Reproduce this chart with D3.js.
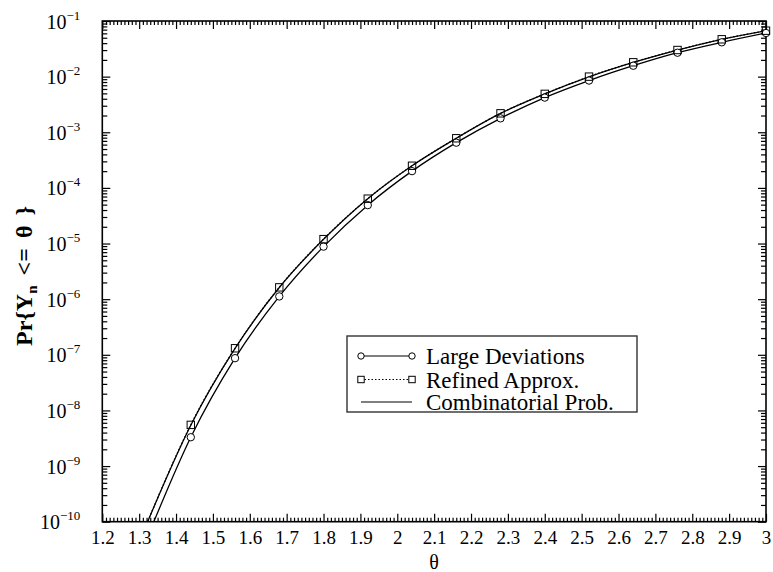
<!DOCTYPE html>
<html>
<head>
<meta charset="utf-8">
<script src="https://cdn.jsdelivr.net/npm/d3@7"></script>
<style>
body { margin: 0; background: #fff; }
svg { display: block; font-family: "Liberation Serif", "Times New Roman", serif; }
</style>
</head>
<body>
<svg id="chart"></svg>
<script>
// theta values where the markers are drawn
let thetaMarks = [1.44, 1.56, 1.68, 1.80, 1.92, 2.04, 2.16, 2.28, 2.40, 2.52, 2.64, 2.76, 2.88, 3.00]

// Large Deviations (circles)
let largeDev = [3.3e-9, 8.7e-8, 1.12e-6, 8.8e-6, 4.9e-5, 2.0e-4, 6.5e-4, 1.78e-3, 4.2e-3, 8.5e-3, 0.0157, 0.0269, 0.0414, 0.0608]
// Refined Approx. (squares)
let refined = [5.5e-9, 1.31e-7, 1.63e-6, 1.2e-5, 6.4e-5, 2.5e-4, 7.8e-4, 2.19e-3, 4.9e-3, 0.0100, 0.0181, 0.0301, 0.0469, 0.0670]

// the curves run on below the first marker, out of the frame
let thetaLine = [1.32, 1.44, 1.56, 1.68, 1.80, 1.92, 2.04, 2.16, 2.28, 2.40, 2.52, 2.64, 2.76, 2.88, 3.00]
let largeDevLine = [4.8e-11, 3.3e-9, 8.7e-8, 1.12e-6, 8.8e-6, 4.9e-5, 2.0e-4, 6.5e-4, 1.78e-3, 4.2e-3, 8.5e-3, 0.0157, 0.0269, 0.0414, 0.0608]
let refinedLine = [9e-11, 5.5e-9, 1.31e-7, 1.63e-6, 1.2e-5, 6.4e-5, 2.5e-4, 7.8e-4, 2.19e-3, 4.9e-3, 0.0100, 0.0181, 0.0301, 0.0469, 0.0670]
// Combinatorial Prob. lies on top of the refined curve
let combProb = [9e-11, 5.4e-9, 1.3e-7, 1.62e-6, 1.19e-5, 6.4e-5, 2.5e-4, 7.8e-4, 2.18e-3, 4.9e-3, 0.0099, 0.0180, 0.0300, 0.0468, 0.0668]

let xTickLabels = ["1.2", "1.3", "1.4", "1.5", "1.6", "1.7", "1.8", "1.9", "2", "2.1", "2.2", "2.3", "2.4", "2.5", "2.6", "2.7", "2.8", "2.9", "3"]
let yExponents = [-10, -9, -8, -7, -6, -5, -4, -3, -2, -1]
let legendLabels = ["Large Deviations", "Refined Approx.", "Combinatorial Prob."]

let width = 773
let height = 572
let plotLeft = 102.3
let plotRight = 766
let plotTop = 21
let plotBottom = 521.7

let svg = d3.select("#chart")
    .attr("width", width)
    .attr("height", height)

let xScale = d3.scaleLinear()
    .domain([1.2, 3])
    .range([plotLeft, plotRight])

let yScale = d3.scaleLog()
    .domain([1e-10, 1e-1])
    .range([plotBottom, plotTop])

let xMajor = xTickLabels.map(Number)
let xMinor = d3.range(121, 300).map(d => d / 100).filter(d => Math.round(d * 100) % 10 != 0)
let yMajor = yExponents.map(e => Math.pow(10, e))
let yMinor = []
yExponents.slice(0, -1).forEach(e => {
    for (let j = 2; j <= 9; j++) yMinor.push(j * Math.pow(10, e))
})

// clip for the curves
svg.append("clipPath").attr("id", "plot-clip")
    .append("rect")
    .attr("x", plotLeft).attr("y", plotTop)
    .attr("width", plotRight - plotLeft).attr("height", plotBottom - plotTop)

let drawAxes = () => {
    // minor ticks first
    svg.append("g").attr("transform", "translate(0," + plotBottom + ")")
        .call(d3.axisBottom(xScale).tickValues(xMinor).tickFormat("").tickSize(-4))
    svg.append("g").attr("transform", "translate(0," + plotTop + ")")
        .call(d3.axisTop(xScale).tickValues(xMinor).tickFormat("").tickSize(-4))
    svg.append("g").attr("transform", "translate(" + plotLeft + ",0)")
        .call(d3.axisLeft(yScale).tickValues(yMinor).tickFormat("").tickSize(-5))
    svg.append("g").attr("transform", "translate(" + plotRight + ",0)")
        .call(d3.axisRight(yScale).tickValues(yMinor).tickFormat("").tickSize(-5))

    svg.append("g")
        .attr("id", "x-axis")
        .attr("transform", "translate(0," + plotBottom + ")")
        .call(d3.axisBottom(xScale).tickValues(xMajor).tickFormat((d, i) => xTickLabels[i]).tickSize(-8).tickPadding(9))
    svg.append("g").attr("transform", "translate(0," + plotTop + ")")
        .call(d3.axisTop(xScale).tickValues(xMajor).tickFormat("").tickSize(-8))

    let yAxis = svg.append("g")
        .attr("id", "y-axis")
        .attr("transform", "translate(" + plotLeft + ",0)")
        .call(d3.axisLeft(yScale).tickValues(yMajor).tickFormat("").tickSize(-8))
    svg.append("g").attr("transform", "translate(" + plotRight + ",0)")
        .call(d3.axisRight(yScale).tickValues(yMajor).tickFormat("").tickSize(-8))

    svg.selectAll(".domain").remove()
    svg.selectAll(".tick line").attr("stroke", "#000").attr("stroke-width", 1.2)

    svg.select("#x-axis").selectAll(".tick text")
        .attr("font-size", 19)
        .attr("font-family", "Liberation Serif")
        .attr("fill", "#000")

    yAxis.selectAll(".tick text").each(function (d, i) {
        let t = d3.select(this)
            .attr("font-size", 20)
            .attr("font-family", "Liberation Serif")
            .attr("fill", "#000")
            .attr("x", -22)
            .attr("dy", "0.35em")
            .attr("text-anchor", "end")
            .text(null)
        t.append("tspan").text("10")
        t.append("tspan").attr("dy", -9).attr("font-size", 13).text("\u2212" + Math.abs(yExponents[i]))
    })

    // frame
    svg.append("rect")
        .attr("x", plotLeft).attr("y", plotTop)
        .attr("width", plotRight - plotLeft).attr("height", plotBottom - plotTop)
        .attr("fill", "none")
        .attr("stroke", "#000")
        .attr("stroke-width", 1.6)

    svg.append("text")
        .attr("x", (plotLeft + plotRight) / 2)
        .attr("y", 569)
        .attr("text-anchor", "middle")
        .attr("font-size", 20)
        .text("\u03b8")

    let yLabel = svg.append("text")
        .attr("transform", "translate(32,276) rotate(-90)")
        .attr("text-anchor", "middle")
        .attr("font-size", 24)
        .attr("font-weight", "bold")
    yLabel.append("tspan").text("Pr{Y")
    yLabel.append("tspan").attr("font-size", 15).attr("dy", 5).text("n")
    yLabel.append("tspan").attr("dy", -5).attr("dx", 10).text("<=")
    yLabel.append("tspan").attr("dx", 10).text("\u03b8")
    yLabel.append("tspan").attr("dx", 10).text("}")
}

let drawCurves = () => {
    let line = d3.line()
        .x(d => xScale(d[0]))
        .y(d => yScale(d[1]))
        .curve(d3.curveMonotoneX)

    let g = svg.append("g").attr("clip-path", "url(#plot-clip)")

    g.append("path")
        .datum(thetaLine.map((t, i) => [t, largeDevLine[i]]))
        .attr("d", line)
        .attr("fill", "none").attr("stroke", "#000").attr("stroke-width", 1.3)

    g.append("path")
        .datum(thetaLine.map((t, i) => [t, refinedLine[i]]))
        .attr("d", line)
        .attr("fill", "none").attr("stroke", "#000").attr("stroke-width", 1.3)
        .attr("stroke-dasharray", "1.5,2")

    g.append("path")
        .datum(thetaLine.map((t, i) => [t, combProb[i]]))
        .attr("d", line)
        .attr("fill", "none").attr("stroke", "#000").attr("stroke-width", 1.3)

    svg.append("g").selectAll("circle")
        .data(thetaMarks.map((t, i) => [t, largeDev[i]]))
        .enter()
        .append("circle")
        .attr("cx", d => xScale(d[0]))
        .attr("cy", d => yScale(d[1]))
        .attr("r", 3.7)
        .attr("fill", "#fff")
        .attr("stroke", "#000")
        .attr("stroke-width", 1)

    svg.append("g").selectAll("rect")
        .data(thetaMarks.map((t, i) => [t, refined[i]]))
        .enter()
        .append("rect")
        .attr("x", d => xScale(d[0]) - 3.7)
        .attr("y", d => yScale(d[1]) - 3.7)
        .attr("width", 7.4)
        .attr("height", 7.4)
        .attr("fill", "none")
        .attr("stroke", "#000")
        .attr("stroke-width", 1)
}

let drawLegend = () => {
    let lg = svg.append("g").attr("transform", "translate(347,336)")
    lg.append("rect")
        .attr("width", 290).attr("height", 76)
        .attr("fill", "#fff")
        .attr("stroke", "#333")
        .attr("stroke-width", 1.4)

    let rows = [20, 43.5, 66]
    legendLabels.forEach((label, i) => {
        let y = rows[i]
        let l = lg.append("line")
            .attr("x1", 14).attr("x2", 65)
            .attr("y1", y).attr("y2", y)
            .attr("stroke", "#000").attr("stroke-width", 1.2)
        if (i == 1) l.attr("stroke-dasharray", "1.5,2").attr("stroke-width", 1)
        if (i == 0) {
            [14, 65].forEach(x => lg.append("circle").attr("cx", x).attr("cy", y).attr("r", 3.2)
                .attr("fill", "#fff").attr("stroke", "#000"))
        }
        if (i == 1) {
            [14, 65].forEach(x => lg.append("rect").attr("x", x - 3.2).attr("y", y - 3.2)
                .attr("width", 6.4).attr("height", 6.4).attr("fill", "#fff").attr("stroke", "#000"))
        }
        lg.append("text")
            .attr("x", 79).attr("y", y)
            .attr("dy", "0.35em")
            .attr("font-size", 23)
            .text(label)
    })
}

drawAxes()
drawCurves()
drawLegend()
</script>
</body>
</html>
